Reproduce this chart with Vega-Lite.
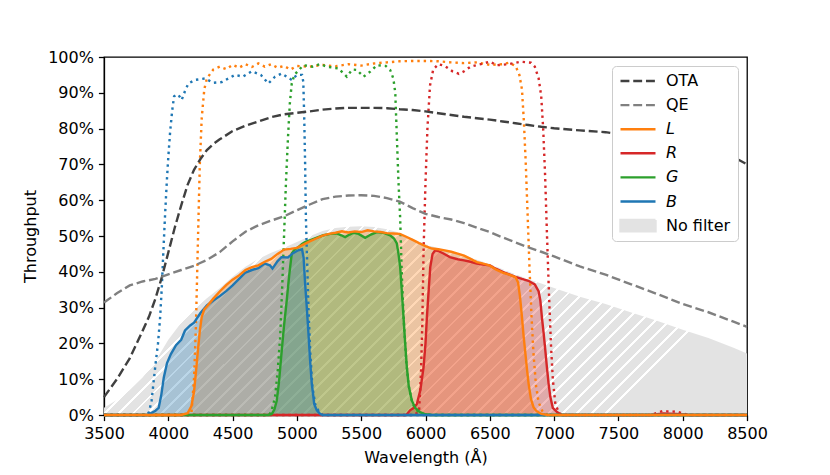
{
"$schema": "https://vega.github.io/schema/vega-lite/v6.json",
"autosize": {"type": "none"},
"width": 643, "height": 358,
"padding": {"left": 104, "top": 57, "right": 83, "bottom": 60},
"background": "white",
"config": {
  "font": "DejaVu Sans",
  "view": {"stroke": "black", "strokeWidth": 1.28},
  "axis": {"domainColor": "black", "domainWidth": 1.28, "tickColor": "black", "tickWidth": 1.28, "tickSize": 5.6, "labelPadding": 5, "labelFlush": false, "labelFont": "DejaVu Sans", "labelFontSize": 16, "labelColor": "black", "titleFont": "DejaVu Sans", "titleFontSize": 16, "titleFontWeight": "normal", "titleColor": "black", "grid": false}
},
"datasets": {
"d": [
{"s":"OTA","k":"sys","w":3500,"t":5},{"s":"OTA","k":"sys","w":3600,"t":10},{"s":"OTA","k":"sys","w":3700,"t":15.8},{"s":"OTA","k":"sys","w":3800,"t":23.5},{"s":"OTA","k":"sys","w":3850,"t":27.5},{"s":"OTA","k":"sys","w":3900,"t":32.5},{"s":"OTA","k":"sys","w":3950,"t":38.5},{"s":"OTA","k":"sys","w":4000,"t":45.4},{"s":"OTA","k":"sys","w":4050,"t":52.3},{"s":"OTA","k":"sys","w":4100,"t":58.5},{"s":"OTA","k":"sys","w":4150,"t":64.3},{"s":"OTA","k":"sys","w":4200,"t":68.5},{"s":"OTA","k":"sys","w":4250,"t":71.5},{"s":"OTA","k":"sys","w":4300,"t":74},{"s":"OTA","k":"sys","w":4350,"t":75.7},{"s":"OTA","k":"sys","w":4400,"t":77},{"s":"OTA","k":"sys","w":4500,"t":79.3},{"s":"OTA","k":"sys","w":4600,"t":80.8},{"s":"OTA","k":"sys","w":4700,"t":82},{"s":"OTA","k":"sys","w":4800,"t":83.2},{"s":"OTA","k":"sys","w":4900,"t":84},{"s":"OTA","k":"sys","w":5000,"t":84.4},{"s":"OTA","k":"sys","w":5100,"t":84.8},{"s":"OTA","k":"sys","w":5200,"t":85.3},{"s":"OTA","k":"sys","w":5300,"t":85.6},{"s":"OTA","k":"sys","w":5400,"t":85.8},{"s":"OTA","k":"sys","w":5500,"t":85.8},{"s":"OTA","k":"sys","w":5600,"t":85.8},{"s":"OTA","k":"sys","w":5700,"t":85.7},{"s":"OTA","k":"sys","w":5800,"t":85.4},{"s":"OTA","k":"sys","w":5900,"t":85.2},{"s":"OTA","k":"sys","w":6000,"t":84.8},{"s":"OTA","k":"sys","w":6100,"t":84.3},{"s":"OTA","k":"sys","w":6200,"t":83.8},{"s":"OTA","k":"sys","w":6300,"t":83.3},{"s":"OTA","k":"sys","w":6400,"t":82.9},{"s":"OTA","k":"sys","w":6500,"t":82.5},{"s":"OTA","k":"sys","w":6600,"t":82},{"s":"OTA","k":"sys","w":6700,"t":81.5},{"s":"OTA","k":"sys","w":6800,"t":81},{"s":"OTA","k":"sys","w":6900,"t":80.5},{"s":"OTA","k":"sys","w":7000,"t":80.1},{"s":"OTA","k":"sys","w":7200,"t":79.5},{"s":"OTA","k":"sys","w":7400,"t":79},{"s":"OTA","k":"sys","w":7500,"t":78.5},{"s":"OTA","k":"sys","w":7600,"t":78.3},{"s":"OTA","k":"sys","w":7800,"t":77.8},{"s":"OTA","k":"sys","w":8000,"t":76.8},{"s":"OTA","k":"sys","w":8200,"t":75},{"s":"OTA","k":"sys","w":8400,"t":72},{"s":"OTA","k":"sys","w":8500,"t":70},
{"s":"QE","k":"sys","w":3500,"t":31.4},{"s":"QE","k":"sys","w":3600,"t":34},{"s":"QE","k":"sys","w":3700,"t":36.2},{"s":"QE","k":"sys","w":3800,"t":37.3},{"s":"QE","k":"sys","w":3900,"t":38},{"s":"QE","k":"sys","w":4000,"t":39.3},{"s":"QE","k":"sys","w":4100,"t":40.5},{"s":"QE","k":"sys","w":4200,"t":41.7},{"s":"QE","k":"sys","w":4300,"t":43.3},{"s":"QE","k":"sys","w":4400,"t":45.5},{"s":"QE","k":"sys","w":4500,"t":48.5},{"s":"QE","k":"sys","w":4600,"t":51.2},{"s":"QE","k":"sys","w":4700,"t":53},{"s":"QE","k":"sys","w":4800,"t":54.3},{"s":"QE","k":"sys","w":4900,"t":55.5},{"s":"QE","k":"sys","w":5000,"t":57.2},{"s":"QE","k":"sys","w":5100,"t":58.8},{"s":"QE","k":"sys","w":5200,"t":60.3},{"s":"QE","k":"sys","w":5300,"t":61},{"s":"QE","k":"sys","w":5400,"t":61.3},{"s":"QE","k":"sys","w":5500,"t":61.4},{"s":"QE","k":"sys","w":5600,"t":61.2},{"s":"QE","k":"sys","w":5700,"t":60.6},{"s":"QE","k":"sys","w":5800,"t":59.6},{"s":"QE","k":"sys","w":5900,"t":57.8},{"s":"QE","k":"sys","w":6000,"t":56.2},{"s":"QE","k":"sys","w":6100,"t":55.3},{"s":"QE","k":"sys","w":6200,"t":54.6},{"s":"QE","k":"sys","w":6300,"t":53.6},{"s":"QE","k":"sys","w":6400,"t":52.3},{"s":"QE","k":"sys","w":6500,"t":51.1},{"s":"QE","k":"sys","w":6600,"t":49.6},{"s":"QE","k":"sys","w":6700,"t":48.2},{"s":"QE","k":"sys","w":6800,"t":46.8},{"s":"QE","k":"sys","w":6900,"t":45.6},{"s":"QE","k":"sys","w":7000,"t":44.3},{"s":"QE","k":"sys","w":7200,"t":41.5},{"s":"QE","k":"sys","w":7400,"t":39.2},{"s":"QE","k":"sys","w":7600,"t":36.5},{"s":"QE","k":"sys","w":7800,"t":33.8},{"s":"QE","k":"sys","w":8000,"t":31},{"s":"QE","k":"sys","w":8200,"t":28.7},{"s":"QE","k":"sys","w":8400,"t":26},{"s":"QE","k":"sys","w":8500,"t":24.6},
{"s":"No filter","k":"n","w":3500,"t":2},{"s":"No filter","k":"n","w":3600,"t":4.2},{"s":"No filter","k":"n","w":3700,"t":7},{"s":"No filter","k":"n","w":3800,"t":10.5},{"s":"No filter","k":"n","w":3900,"t":15},{"s":"No filter","k":"n","w":4000,"t":21},{"s":"No filter","k":"n","w":4100,"t":25.8},{"s":"No filter","k":"n","w":4200,"t":29.5},{"s":"No filter","k":"n","w":4300,"t":32.6},{"s":"No filter","k":"n","w":4400,"t":35.4},{"s":"No filter","k":"n","w":4500,"t":38.6},{"s":"No filter","k":"n","w":4600,"t":41.4},{"s":"No filter","k":"n","w":4700,"t":43.6},{"s":"No filter","k":"n","w":4800,"t":45.3},{"s":"No filter","k":"n","w":4900,"t":46.7},{"s":"No filter","k":"n","w":5000,"t":48.3},{"s":"No filter","k":"n","w":5100,"t":49.9},{"s":"No filter","k":"n","w":5200,"t":51.4},{"s":"No filter","k":"n","w":5300,"t":52.2},{"s":"No filter","k":"n","w":5400,"t":52.6},{"s":"No filter","k":"n","w":5500,"t":52.7},{"s":"No filter","k":"n","w":5600,"t":52.5},{"s":"No filter","k":"n","w":5700,"t":51.9},{"s":"No filter","k":"n","w":5800,"t":50.9},{"s":"No filter","k":"n","w":5900,"t":49.2},{"s":"No filter","k":"n","w":6000,"t":47.7},{"s":"No filter","k":"n","w":6100,"t":46.6},{"s":"No filter","k":"n","w":6200,"t":45.7},{"s":"No filter","k":"n","w":6300,"t":44.6},{"s":"No filter","k":"n","w":6400,"t":43.4},{"s":"No filter","k":"n","w":6500,"t":42.2},{"s":"No filter","k":"n","w":6600,"t":40.7},{"s":"No filter","k":"n","w":6700,"t":39.3},{"s":"No filter","k":"n","w":6800,"t":37.9},{"s":"No filter","k":"n","w":6900,"t":36.7},{"s":"No filter","k":"n","w":7000,"t":35.5},{"s":"No filter","k":"n","w":7200,"t":33},{"s":"No filter","k":"n","w":7400,"t":31},{"s":"No filter","k":"n","w":7600,"t":28.6},{"s":"No filter","k":"n","w":7800,"t":26.3},{"s":"No filter","k":"n","w":8000,"t":23.8},{"s":"No filter","k":"n","w":8200,"t":21.5},{"s":"No filter","k":"n","w":8400,"t":18.7},{"s":"No filter","k":"n","w":8500,"t":17.2},
{"s":"L","k":"f","w":3500,"t":0},{"s":"L","k":"f","w":4150,"t":0},{"s":"L","k":"f","w":4180,"t":0.5},{"s":"L","k":"f","w":4200,"t":10},{"s":"L","k":"f","w":4215,"t":25},{"s":"L","k":"f","w":4230,"t":48},{"s":"L","k":"f","w":4245,"t":70},{"s":"L","k":"f","w":4260,"t":83},{"s":"L","k":"f","w":4280,"t":91},{"s":"L","k":"f","w":4300,"t":94},{"s":"L","k":"f","w":4350,"t":96.5},{"s":"L","k":"f","w":4400,"t":97.3},{"s":"L","k":"f","w":4450,"t":96.6},{"s":"L","k":"f","w":4500,"t":97.8},{"s":"L","k":"f","w":4550,"t":97},{"s":"L","k":"f","w":4600,"t":98},{"s":"L","k":"f","w":4650,"t":97.2},{"s":"L","k":"f","w":4700,"t":98.2},{"s":"L","k":"f","w":4750,"t":97.3},{"s":"L","k":"f","w":4800,"t":98},{"s":"L","k":"f","w":4850,"t":97},{"s":"L","k":"f","w":4900,"t":97.5},{"s":"L","k":"f","w":4950,"t":96.5},{"s":"L","k":"f","w":5000,"t":97.5},{"s":"L","k":"f","w":5100,"t":97.3},{"s":"L","k":"f","w":5200,"t":97.8},{"s":"L","k":"f","w":5300,"t":97.4},{"s":"L","k":"f","w":5400,"t":98},{"s":"L","k":"f","w":5500,"t":97.6},{"s":"L","k":"f","w":5600,"t":98.2},{"s":"L","k":"f","w":5700,"t":98.5},{"s":"L","k":"f","w":5800,"t":98.8},{"s":"L","k":"f","w":5900,"t":98.9},{"s":"L","k":"f","w":6000,"t":98.9},{"s":"L","k":"f","w":6100,"t":98.8},{"s":"L","k":"f","w":6200,"t":98.5},{"s":"L","k":"f","w":6300,"t":98.3},{"s":"L","k":"f","w":6400,"t":98.5},{"s":"L","k":"f","w":6500,"t":97.8},{"s":"L","k":"f","w":6600,"t":98},{"s":"L","k":"f","w":6650,"t":98.4},{"s":"L","k":"f","w":6700,"t":97.5},{"s":"L","k":"f","w":6730,"t":95},{"s":"L","k":"f","w":6750,"t":91},{"s":"L","k":"f","w":6765,"t":82},{"s":"L","k":"f","w":6780,"t":70},{"s":"L","k":"f","w":6795,"t":55},{"s":"L","k":"f","w":6810,"t":40},{"s":"L","k":"f","w":6825,"t":27},{"s":"L","k":"f","w":6840,"t":17},{"s":"L","k":"f","w":6860,"t":8},{"s":"L","k":"f","w":6880,"t":3.5},{"s":"L","k":"f","w":6910,"t":1},{"s":"L","k":"f","w":6950,"t":0},{"s":"L","k":"f","w":8500,"t":0},
{"s":"R","k":"f","w":3500,"t":0},{"s":"R","k":"f","w":5900,"t":0},{"s":"R","k":"f","w":5950,"t":0.8},{"s":"R","k":"f","w":5965,"t":12},{"s":"R","k":"f","w":5975,"t":25},{"s":"R","k":"f","w":5985,"t":46},{"s":"R","k":"f","w":6000,"t":65},{"s":"R","k":"f","w":6015,"t":80},{"s":"R","k":"f","w":6035,"t":92},{"s":"R","k":"f","w":6060,"t":96.5},{"s":"R","k":"f","w":6100,"t":98},{"s":"R","k":"f","w":6150,"t":97.5},{"s":"R","k":"f","w":6210,"t":96},{"s":"R","k":"f","w":6260,"t":95.3},{"s":"R","k":"f","w":6300,"t":96},{"s":"R","k":"f","w":6350,"t":97.3},{"s":"R","k":"f","w":6450,"t":98.2},{"s":"R","k":"f","w":6500,"t":98.7},{"s":"R","k":"f","w":6554,"t":97.7},{"s":"R","k":"f","w":6650,"t":98},{"s":"R","k":"f","w":6740,"t":98.7},{"s":"R","k":"f","w":6820,"t":98.4},{"s":"R","k":"f","w":6850,"t":97.3},{"s":"R","k":"f","w":6880,"t":94},{"s":"R","k":"f","w":6900,"t":89},{"s":"R","k":"f","w":6915,"t":80},{"s":"R","k":"f","w":6930,"t":67},{"s":"R","k":"f","w":6945,"t":50},{"s":"R","k":"f","w":6960,"t":34},{"s":"R","k":"f","w":6975,"t":20},{"s":"R","k":"f","w":6990,"t":10},{"s":"R","k":"f","w":7010,"t":3},{"s":"R","k":"f","w":7040,"t":0.5},{"s":"R","k":"f","w":7060,"t":0},{"s":"R","k":"f","w":7750,"t":0},{"s":"R","k":"f","w":7800,"t":0.6},{"s":"R","k":"f","w":7850,"t":1.2},{"s":"R","k":"f","w":7900,"t":0.9},{"s":"R","k":"f","w":7950,"t":1},{"s":"R","k":"f","w":8000,"t":0.4},{"s":"R","k":"f","w":8050,"t":0},{"s":"R","k":"f","w":8500,"t":0},
{"s":"G","k":"f","w":3500,"t":0},{"s":"G","k":"f","w":4780,"t":0},{"s":"G","k":"f","w":4800,"t":0.8},{"s":"G","k":"f","w":4830,"t":5},{"s":"G","k":"f","w":4850,"t":12},{"s":"G","k":"f","w":4870,"t":22},{"s":"G","k":"f","w":4885,"t":35},{"s":"G","k":"f","w":4900,"t":50},{"s":"G","k":"f","w":4915,"t":65},{"s":"G","k":"f","w":4930,"t":77},{"s":"G","k":"f","w":4945,"t":87},{"s":"G","k":"f","w":4960,"t":92.6},{"s":"G","k":"f","w":4980,"t":95},{"s":"G","k":"f","w":5050,"t":97.7},{"s":"G","k":"f","w":5120,"t":97.3},{"s":"G","k":"f","w":5180,"t":98},{"s":"G","k":"f","w":5232,"t":97.3},{"s":"G","k":"f","w":5323,"t":96.8},{"s":"G","k":"f","w":5388,"t":94.5},{"s":"G","k":"f","w":5430,"t":96.5},{"s":"G","k":"f","w":5466,"t":96.4},{"s":"G","k":"f","w":5518,"t":94.5},{"s":"G","k":"f","w":5570,"t":95.9},{"s":"G","k":"f","w":5622,"t":97.7},{"s":"G","k":"f","w":5690,"t":97.5},{"s":"G","k":"f","w":5725,"t":96.4},{"s":"G","k":"f","w":5750,"t":94},{"s":"G","k":"f","w":5765,"t":90},{"s":"G","k":"f","w":5775,"t":80},{"s":"G","k":"f","w":5790,"t":65},{"s":"G","k":"f","w":5803,"t":55},{"s":"G","k":"f","w":5815,"t":40},{"s":"G","k":"f","w":5830,"t":27},{"s":"G","k":"f","w":5850,"t":15},{"s":"G","k":"f","w":5870,"t":8},{"s":"G","k":"f","w":5900,"t":3},{"s":"G","k":"f","w":5940,"t":1},{"s":"G","k":"f","w":5980,"t":0.3},{"s":"G","k":"f","w":6050,"t":0},{"s":"G","k":"f","w":8500,"t":0},
{"s":"B","k":"f","w":3500,"t":0},{"s":"B","k":"f","w":3830,"t":0},{"s":"B","k":"f","w":3850,"t":0.8},{"s":"B","k":"f","w":3870,"t":4},{"s":"B","k":"f","w":3885,"t":9},{"s":"B","k":"f","w":3900,"t":14},{"s":"B","k":"f","w":3920,"t":20},{"s":"B","k":"f","w":3936,"t":27},{"s":"B","k":"f","w":3950,"t":36},{"s":"B","k":"f","w":3962,"t":46},{"s":"B","k":"f","w":3975,"t":56},{"s":"B","k":"f","w":3988,"t":65},{"s":"B","k":"f","w":4000,"t":72},{"s":"B","k":"f","w":4014,"t":79},{"s":"B","k":"f","w":4030,"t":85},{"s":"B","k":"f","w":4045,"t":89},{"s":"B","k":"f","w":4060,"t":89.5},{"s":"B","k":"f","w":4080,"t":89.4},{"s":"B","k":"f","w":4104,"t":88},{"s":"B","k":"f","w":4130,"t":90.5},{"s":"B","k":"f","w":4156,"t":92.6},{"s":"B","k":"f","w":4208,"t":93.6},{"s":"B","k":"f","w":4286,"t":94},{"s":"B","k":"f","w":4350,"t":92.8},{"s":"B","k":"f","w":4416,"t":93},{"s":"B","k":"f","w":4519,"t":95},{"s":"B","k":"f","w":4580,"t":94.5},{"s":"B","k":"f","w":4649,"t":96},{"s":"B","k":"f","w":4720,"t":95},{"s":"B","k":"f","w":4778,"t":92.6},{"s":"B","k":"f","w":4830,"t":94.5},{"s":"B","k":"f","w":4882,"t":95.4},{"s":"B","k":"f","w":4960,"t":93.6},{"s":"B","k":"f","w":5000,"t":95},{"s":"B","k":"f","w":5040,"t":95},{"s":"B","k":"f","w":5050,"t":93},{"s":"B","k":"f","w":5057,"t":83},{"s":"B","k":"f","w":5064,"t":70},{"s":"B","k":"f","w":5070,"t":55},{"s":"B","k":"f","w":5077,"t":46},{"s":"B","k":"f","w":5090,"t":30},{"s":"B","k":"f","w":5103,"t":18},{"s":"B","k":"f","w":5120,"t":8},{"s":"B","k":"f","w":5142,"t":3},{"s":"B","k":"f","w":5170,"t":1},{"s":"B","k":"f","w":5200,"t":0},{"s":"B","k":"f","w":8500,"t":0},
{"s":"L","k":"t","w":3500,"t":0},{"s":"L","k":"t","w":4100,"t":0},{"s":"L","k":"t","w":4150,"t":0.5},{"s":"L","k":"t","w":4180,"t":2.5},{"s":"L","k":"t","w":4200,"t":6.5},{"s":"L","k":"t","w":4215,"t":12},{"s":"L","k":"t","w":4230,"t":18},{"s":"L","k":"t","w":4245,"t":23.5},{"s":"L","k":"t","w":4260,"t":27.4},{"s":"L","k":"t","w":4280,"t":29.5},{"s":"L","k":"t","w":4300,"t":30.3},{"s":"L","k":"t","w":4350,"t":32.5},{"s":"L","k":"t","w":4400,"t":34.5},{"s":"L","k":"t","w":4450,"t":36.3},{"s":"L","k":"t","w":4500,"t":37.8},{"s":"L","k":"t","w":4550,"t":39},{"s":"L","k":"t","w":4600,"t":40.5},{"s":"L","k":"t","w":4650,"t":41.3},{"s":"L","k":"t","w":4700,"t":41.8},{"s":"L","k":"t","w":4750,"t":42.8},{"s":"L","k":"t","w":4800,"t":43.6},{"s":"L","k":"t","w":4850,"t":45},{"s":"L","k":"t","w":4900,"t":46.2},{"s":"L","k":"t","w":4950,"t":46.4},{"s":"L","k":"t","w":5000,"t":46.7},{"s":"L","k":"t","w":5050,"t":47.6},{"s":"L","k":"t","w":5100,"t":48.5},{"s":"L","k":"t","w":5150,"t":49.3},{"s":"L","k":"t","w":5200,"t":50.1},{"s":"L","k":"t","w":5250,"t":50.6},{"s":"L","k":"t","w":5300,"t":50.9},{"s":"L","k":"t","w":5350,"t":51.3},{"s":"L","k":"t","w":5400,"t":51},{"s":"L","k":"t","w":5450,"t":51.3},{"s":"L","k":"t","w":5500,"t":51.1},{"s":"L","k":"t","w":5550,"t":51.6},{"s":"L","k":"t","w":5600,"t":51.3},{"s":"L","k":"t","w":5650,"t":51.1},{"s":"L","k":"t","w":5700,"t":50.8},{"s":"L","k":"t","w":5750,"t":50.7},{"s":"L","k":"t","w":5800,"t":50.6},{"s":"L","k":"t","w":5850,"t":49.8},{"s":"L","k":"t","w":5900,"t":48.9},{"s":"L","k":"t","w":5950,"t":48},{"s":"L","k":"t","w":6000,"t":47.2},{"s":"L","k":"t","w":6050,"t":46.5},{"s":"L","k":"t","w":6100,"t":46.3},{"s":"L","k":"t","w":6150,"t":46},{"s":"L","k":"t","w":6200,"t":45.6},{"s":"L","k":"t","w":6250,"t":45.1},{"s":"L","k":"t","w":6300,"t":44.5},{"s":"L","k":"t","w":6350,"t":43.6},{"s":"L","k":"t","w":6400,"t":42.7},{"s":"L","k":"t","w":6450,"t":42.3},{"s":"L","k":"t","w":6500,"t":41.7},{"s":"L","k":"t","w":6550,"t":40.6},{"s":"L","k":"t","w":6600,"t":39.8},{"s":"L","k":"t","w":6650,"t":39.2},{"s":"L","k":"t","w":6700,"t":38.5},{"s":"L","k":"t","w":6720,"t":37},{"s":"L","k":"t","w":6735,"t":33},{"s":"L","k":"t","w":6750,"t":27.4},{"s":"L","k":"t","w":6763,"t":22},{"s":"L","k":"t","w":6776,"t":17.5},{"s":"L","k":"t","w":6790,"t":12.5},{"s":"L","k":"t","w":6802,"t":8.7},{"s":"L","k":"t","w":6820,"t":4.5},{"s":"L","k":"t","w":6840,"t":2.2},{"s":"L","k":"t","w":6860,"t":1.2},{"s":"L","k":"t","w":6900,"t":0.3},{"s":"L","k":"t","w":6950,"t":0},{"s":"L","k":"t","w":8500,"t":0},
{"s":"R","k":"t","w":3500,"t":0},{"s":"R","k":"t","w":5850,"t":0},{"s":"R","k":"t","w":5880,"t":1.3},{"s":"R","k":"t","w":5910,"t":2},{"s":"R","k":"t","w":5933,"t":3.1},{"s":"R","k":"t","w":5960,"t":7},{"s":"R","k":"t","w":5985,"t":13.4},{"s":"R","k":"t","w":6000,"t":20},{"s":"R","k":"t","w":6011,"t":27.4},{"s":"R","k":"t","w":6025,"t":35},{"s":"R","k":"t","w":6037,"t":41.3},{"s":"R","k":"t","w":6055,"t":45},{"s":"R","k":"t","w":6075,"t":46},{"s":"R","k":"t","w":6100,"t":45.8},{"s":"R","k":"t","w":6140,"t":45.1},{"s":"R","k":"t","w":6190,"t":44.1},{"s":"R","k":"t","w":6250,"t":43.5},{"s":"R","k":"t","w":6300,"t":43.2},{"s":"R","k":"t","w":6350,"t":42.8},{"s":"R","k":"t","w":6400,"t":42.3},{"s":"R","k":"t","w":6450,"t":42},{"s":"R","k":"t","w":6500,"t":41.8},{"s":"R","k":"t","w":6550,"t":40.8},{"s":"R","k":"t","w":6600,"t":40},{"s":"R","k":"t","w":6650,"t":39.3},{"s":"R","k":"t","w":6700,"t":38.6},{"s":"R","k":"t","w":6750,"t":38},{"s":"R","k":"t","w":6800,"t":37.5},{"s":"R","k":"t","w":6850,"t":36.5},{"s":"R","k":"t","w":6880,"t":34.5},{"s":"R","k":"t","w":6893,"t":32},{"s":"R","k":"t","w":6906,"t":27},{"s":"R","k":"t","w":6919,"t":22.7},{"s":"R","k":"t","w":6932,"t":18},{"s":"R","k":"t","w":6944,"t":13.4},{"s":"R","k":"t","w":6958,"t":8.5},{"s":"R","k":"t","w":6971,"t":5},{"s":"R","k":"t","w":6990,"t":2},{"s":"R","k":"t","w":7023,"t":0.8},{"s":"R","k":"t","w":7060,"t":0},{"s":"R","k":"t","w":7750,"t":0},{"s":"R","k":"t","w":7850,"t":0.4},{"s":"R","k":"t","w":7950,"t":0.3},{"s":"R","k":"t","w":8050,"t":0},{"s":"R","k":"t","w":8500,"t":0},
{"s":"G","k":"t","w":3500,"t":0},{"s":"G","k":"t","w":4780,"t":0},{"s":"G","k":"t","w":4805,"t":0.3},{"s":"G","k":"t","w":4825,"t":1.5},{"s":"G","k":"t","w":4843,"t":4},{"s":"G","k":"t","w":4860,"t":9},{"s":"G","k":"t","w":4882,"t":18},{"s":"G","k":"t","w":4900,"t":25},{"s":"G","k":"t","w":4921,"t":32},{"s":"G","k":"t","w":4940,"t":39},{"s":"G","k":"t","w":4960,"t":45.1},{"s":"G","k":"t","w":4985,"t":46.3},{"s":"G","k":"t","w":5012,"t":46.9},{"s":"G","k":"t","w":5040,"t":47.8},{"s":"G","k":"t","w":5064,"t":48.3},{"s":"G","k":"t","w":5100,"t":48.8},{"s":"G","k":"t","w":5150,"t":49.5},{"s":"G","k":"t","w":5206,"t":50.2},{"s":"G","k":"t","w":5260,"t":50.6},{"s":"G","k":"t","w":5310,"t":50.7},{"s":"G","k":"t","w":5345,"t":50.2},{"s":"G","k":"t","w":5375,"t":49.7},{"s":"G","k":"t","w":5410,"t":50.4},{"s":"G","k":"t","w":5440,"t":50.9},{"s":"G","k":"t","w":5480,"t":50.6},{"s":"G","k":"t","w":5531,"t":49.5},{"s":"G","k":"t","w":5575,"t":50.4},{"s":"G","k":"t","w":5622,"t":51.1},{"s":"G","k":"t","w":5680,"t":50.8},{"s":"G","k":"t","w":5725,"t":50.2},{"s":"G","k":"t","w":5755,"t":49.3},{"s":"G","k":"t","w":5777,"t":47.9},{"s":"G","k":"t","w":5790,"t":45},{"s":"G","k":"t","w":5803,"t":41.3},{"s":"G","k":"t","w":5816,"t":34.5},{"s":"G","k":"t","w":5829,"t":27.4},{"s":"G","k":"t","w":5842,"t":20},{"s":"G","k":"t","w":5855,"t":13.4},{"s":"G","k":"t","w":5870,"t":8},{"s":"G","k":"t","w":5894,"t":4},{"s":"G","k":"t","w":5920,"t":2},{"s":"G","k":"t","w":5958,"t":0.8},{"s":"G","k":"t","w":6000,"t":0.2},{"s":"G","k":"t","w":6050,"t":0},{"s":"G","k":"t","w":8500,"t":0},
{"s":"B","k":"t","w":3500,"t":0},{"s":"B","k":"t","w":3830,"t":0},{"s":"B","k":"t","w":3860,"t":0.4},{"s":"B","k":"t","w":3900,"t":1.2},{"s":"B","k":"t","w":3925,"t":2},{"s":"B","k":"t","w":3945,"t":5.5},{"s":"B","k":"t","w":3965,"t":10.5},{"s":"B","k":"t","w":3990,"t":14.5},{"s":"B","k":"t","w":4020,"t":17},{"s":"B","k":"t","w":4060,"t":19.5},{"s":"B","k":"t","w":4100,"t":21},{"s":"B","k":"t","w":4130,"t":23.6},{"s":"B","k":"t","w":4170,"t":25},{"s":"B","k":"t","w":4200,"t":25.8},{"s":"B","k":"t","w":4250,"t":28.5},{"s":"B","k":"t","w":4300,"t":30.6},{"s":"B","k":"t","w":4350,"t":32},{"s":"B","k":"t","w":4400,"t":33.2},{"s":"B","k":"t","w":4450,"t":34.6},{"s":"B","k":"t","w":4500,"t":36.2},{"s":"B","k":"t","w":4550,"t":38},{"s":"B","k":"t","w":4600,"t":39.8},{"s":"B","k":"t","w":4650,"t":40.5},{"s":"B","k":"t","w":4700,"t":41},{"s":"B","k":"t","w":4750,"t":42.3},{"s":"B","k":"t","w":4790,"t":41.8},{"s":"B","k":"t","w":4810,"t":40.9},{"s":"B","k":"t","w":4850,"t":43},{"s":"B","k":"t","w":4880,"t":44.1},{"s":"B","k":"t","w":4930,"t":44},{"s":"B","k":"t","w":4970,"t":45.2},{"s":"B","k":"t","w":5010,"t":46},{"s":"B","k":"t","w":5040,"t":46.3},{"s":"B","k":"t","w":5052,"t":44},{"s":"B","k":"t","w":5064,"t":36.7},{"s":"B","k":"t","w":5077,"t":30},{"s":"B","k":"t","w":5090,"t":22.7},{"s":"B","k":"t","w":5103,"t":15},{"s":"B","k":"t","w":5116,"t":8.7},{"s":"B","k":"t","w":5135,"t":3},{"s":"B","k":"t","w":5155,"t":1.3},{"s":"B","k":"t","w":5180,"t":0.3},{"s":"B","k":"t","w":5200,"t":0},{"s":"B","k":"t","w":8500,"t":0}
]
},
"data": {"name": "d"},
"encoding": {
  "x": {"field": "w", "type": "quantitative", "scale": {"domain": [3500, 8500], "nice": false, "zero": false}, "axis": {"values": [3500,4000,4500,5000,5500,6000,6500,7000,7500,8000,8500], "format": "d", "title": "Wavelength (Å)", "titlePadding": 8}},
  "y": {"field": "t", "type": "quantitative", "stack": null, "scale": {"domain": [0, 100], "nice": false}, "axis": {"values": [0,10,20,30,40,50,60,70,80,90,100], "labelExpr": "datum.value + '%'", "title": "Throughput", "titlePadding": 9}}
},
"layer": [
  {
    "transform": [{"filter": "datum.k === 'n'"}],
    "mark": {"type": "area", "color": {"gradient": "linear", "x1": 0, "y1": 0, "x2": 1, "y2": 0.2935, "stops": [
{"offset":0,"color":"#fff"},{"offset":0.0041,"color":"#fff"},{"offset":0.0041,"color":"#e3e3e3"},{"offset":0.0205,"color":"#e3e3e3"},
{"offset":0.0205,"color":"#fff"},{"offset":0.0246,"color":"#fff"},{"offset":0.0246,"color":"#e3e3e3"},{"offset":0.041,"color":"#e3e3e3"},
{"offset":0.041,"color":"#fff"},{"offset":0.0451,"color":"#fff"},{"offset":0.0451,"color":"#e3e3e3"},{"offset":0.0615,"color":"#e3e3e3"},
{"offset":0.0615,"color":"#fff"},{"offset":0.0656,"color":"#fff"},{"offset":0.0656,"color":"#e3e3e3"},{"offset":0.082,"color":"#e3e3e3"},
{"offset":0.082,"color":"#fff"},{"offset":0.0861,"color":"#fff"},{"offset":0.0861,"color":"#e3e3e3"},{"offset":0.1025,"color":"#e3e3e3"},
{"offset":0.1025,"color":"#fff"},{"offset":0.1066,"color":"#fff"},{"offset":0.1066,"color":"#e3e3e3"},{"offset":0.123,"color":"#e3e3e3"},
{"offset":0.123,"color":"#fff"},{"offset":0.1271,"color":"#fff"},{"offset":0.1271,"color":"#e3e3e3"},{"offset":0.1435,"color":"#e3e3e3"},
{"offset":0.1435,"color":"#fff"},{"offset":0.1476,"color":"#fff"},{"offset":0.1476,"color":"#e3e3e3"},{"offset":0.164,"color":"#e3e3e3"},
{"offset":0.164,"color":"#fff"},{"offset":0.1681,"color":"#fff"},{"offset":0.1681,"color":"#e3e3e3"},{"offset":0.1845,"color":"#e3e3e3"},
{"offset":0.1845,"color":"#fff"},{"offset":0.1886,"color":"#fff"},{"offset":0.1886,"color":"#e3e3e3"},{"offset":0.205,"color":"#e3e3e3"},
{"offset":0.205,"color":"#fff"},{"offset":0.2091,"color":"#fff"},{"offset":0.2091,"color":"#e3e3e3"},{"offset":0.2255,"color":"#e3e3e3"},
{"offset":0.2255,"color":"#fff"},{"offset":0.2296,"color":"#fff"},{"offset":0.2296,"color":"#e3e3e3"},{"offset":0.246,"color":"#e3e3e3"},
{"offset":0.246,"color":"#fff"},{"offset":0.2501,"color":"#fff"},{"offset":0.2501,"color":"#e3e3e3"},{"offset":0.2665,"color":"#e3e3e3"},
{"offset":0.2665,"color":"#fff"},{"offset":0.2706,"color":"#fff"},{"offset":0.2706,"color":"#e3e3e3"},{"offset":0.287,"color":"#e3e3e3"},
{"offset":0.287,"color":"#fff"},{"offset":0.2911,"color":"#fff"},{"offset":0.2911,"color":"#e3e3e3"},{"offset":0.3075,"color":"#e3e3e3"},
{"offset":0.3075,"color":"#fff"},{"offset":0.3116,"color":"#fff"},{"offset":0.3116,"color":"#e3e3e3"},{"offset":0.328,"color":"#e3e3e3"},
{"offset":0.328,"color":"#fff"},{"offset":0.3321,"color":"#fff"},{"offset":0.3321,"color":"#e3e3e3"},{"offset":0.3485,"color":"#e3e3e3"},
{"offset":0.3485,"color":"#fff"},{"offset":0.3526,"color":"#fff"},{"offset":0.3526,"color":"#e3e3e3"},{"offset":0.369,"color":"#e3e3e3"},
{"offset":0.369,"color":"#fff"},{"offset":0.3731,"color":"#fff"},{"offset":0.3731,"color":"#e3e3e3"},{"offset":0.3895,"color":"#e3e3e3"},
{"offset":0.3895,"color":"#fff"},{"offset":0.3936,"color":"#fff"},{"offset":0.3936,"color":"#e3e3e3"},{"offset":0.41,"color":"#e3e3e3"},
{"offset":0.41,"color":"#fff"},{"offset":0.4141,"color":"#fff"},{"offset":0.4141,"color":"#e3e3e3"},{"offset":0.4305,"color":"#e3e3e3"},
{"offset":0.4305,"color":"#fff"},{"offset":0.4346,"color":"#fff"},{"offset":0.4346,"color":"#e3e3e3"},{"offset":0.451,"color":"#e3e3e3"},
{"offset":0.451,"color":"#fff"},{"offset":0.4551,"color":"#fff"},{"offset":0.4551,"color":"#e3e3e3"},{"offset":0.4715,"color":"#e3e3e3"},
{"offset":0.4715,"color":"#fff"},{"offset":0.4756,"color":"#fff"},{"offset":0.4756,"color":"#e3e3e3"},{"offset":0.492,"color":"#e3e3e3"},
{"offset":0.492,"color":"#fff"},{"offset":0.4961,"color":"#fff"},{"offset":0.4961,"color":"#e3e3e3"},{"offset":0.5125,"color":"#e3e3e3"},
{"offset":0.5125,"color":"#fff"},{"offset":0.5166,"color":"#fff"},{"offset":0.5166,"color":"#e3e3e3"},{"offset":0.533,"color":"#e3e3e3"},
{"offset":0.533,"color":"#fff"},{"offset":0.5371,"color":"#fff"},{"offset":0.5371,"color":"#e3e3e3"},{"offset":0.5535,"color":"#e3e3e3"},
{"offset":0.5535,"color":"#fff"},{"offset":0.5576,"color":"#fff"},{"offset":0.5576,"color":"#e3e3e3"},{"offset":0.574,"color":"#e3e3e3"},
{"offset":0.574,"color":"#fff"},{"offset":0.5781,"color":"#fff"},{"offset":0.5781,"color":"#e3e3e3"},{"offset":0.5945,"color":"#e3e3e3"},
{"offset":0.5945,"color":"#fff"},{"offset":0.5986,"color":"#fff"},{"offset":0.5986,"color":"#e3e3e3"},{"offset":0.615,"color":"#e3e3e3"},
{"offset":0.615,"color":"#fff"},{"offset":0.6191,"color":"#fff"},{"offset":0.6191,"color":"#e3e3e3"},{"offset":0.6355,"color":"#e3e3e3"},
{"offset":0.6355,"color":"#fff"},{"offset":0.6396,"color":"#fff"},{"offset":0.6396,"color":"#e3e3e3"},{"offset":0.656,"color":"#e3e3e3"},
{"offset":0.656,"color":"#fff"},{"offset":0.6601,"color":"#fff"},{"offset":0.6601,"color":"#e3e3e3"},{"offset":0.6765,"color":"#e3e3e3"},
{"offset":0.6765,"color":"#fff"},{"offset":0.6806,"color":"#fff"},{"offset":0.6806,"color":"#e3e3e3"},{"offset":0.697,"color":"#e3e3e3"},
{"offset":0.697,"color":"#fff"},{"offset":0.7011,"color":"#fff"},{"offset":0.7011,"color":"#e3e3e3"},{"offset":0.7175,"color":"#e3e3e3"},
{"offset":0.7175,"color":"#fff"},{"offset":0.7216,"color":"#fff"},{"offset":0.7216,"color":"#e3e3e3"},{"offset":0.738,"color":"#e3e3e3"},
{"offset":0.738,"color":"#fff"},{"offset":0.7421,"color":"#fff"},{"offset":0.7421,"color":"#e3e3e3"},{"offset":0.7585,"color":"#e3e3e3"},
{"offset":0.7585,"color":"#fff"},{"offset":0.7626,"color":"#fff"},{"offset":0.7626,"color":"#e3e3e3"},{"offset":0.779,"color":"#e3e3e3"},
{"offset":0.779,"color":"#fff"},{"offset":0.7831,"color":"#fff"},{"offset":0.7831,"color":"#e3e3e3"},{"offset":0.7995,"color":"#e3e3e3"},
{"offset":0.7995,"color":"#fff"},{"offset":0.8036,"color":"#fff"},{"offset":0.8036,"color":"#e3e3e3"},{"offset":0.82,"color":"#e3e3e3"},
{"offset":0.82,"color":"#fff"},{"offset":0.8241,"color":"#fff"},{"offset":0.8241,"color":"#e3e3e3"},{"offset":0.8405,"color":"#e3e3e3"},
{"offset":0.8405,"color":"#fff"},{"offset":0.8446,"color":"#fff"},{"offset":0.8446,"color":"#e3e3e3"},{"offset":0.861,"color":"#e3e3e3"},
{"offset":0.861,"color":"#fff"},{"offset":0.8651,"color":"#fff"},{"offset":0.8651,"color":"#e3e3e3"},{"offset":0.8815,"color":"#e3e3e3"},
{"offset":0.8815,"color":"#fff"},{"offset":0.8856,"color":"#fff"},{"offset":0.8856,"color":"#e3e3e3"},{"offset":0.902,"color":"#e3e3e3"},
{"offset":0.902,"color":"#fff"},{"offset":0.9061,"color":"#fff"},{"offset":0.9061,"color":"#e3e3e3"},{"offset":0.9225,"color":"#e3e3e3"},
{"offset":0.9225,"color":"#fff"},{"offset":0.9266,"color":"#fff"},{"offset":0.9266,"color":"#e3e3e3"},{"offset":0.943,"color":"#e3e3e3"},
{"offset":0.943,"color":"#fff"},{"offset":0.9471,"color":"#fff"},{"offset":0.9471,"color":"#e3e3e3"},{"offset":0.9635,"color":"#e3e3e3"},
{"offset":0.9635,"color":"#fff"},{"offset":0.9676,"color":"#fff"},{"offset":0.9676,"color":"#e3e3e3"},{"offset":0.984,"color":"#e3e3e3"},
{"offset":0.984,"color":"#fff"},{"offset":0.9881,"color":"#fff"},{"offset":0.9881,"color":"#e3e3e3"},{"offset":1,"color":"#e3e3e3"}
    ]}}
  },
  {
    "transform": [{"filter": "datum.k === 't'"}],
    "mark": {"type": "area", "fillOpacity": 0.3},
    "encoding": {
      "color": {"field": "s", "type": "nominal",
        "scale": {"domain": ["OTA", "QE", "L", "R", "G", "B", "No filter"], "range": ["#404040", "#808080", "#ff7f0e", "#d62728", "#2ca02c", "#1f77b4", "#e3e3e3"]},
        "legend": {
          "title": null, "orient": "top-right", "offset": 9, "padding": 7, "rowPadding": 8.1, "clipHeight": 16,
          "fillColor": "white", "strokeColor": "#cccccc", "cornerRadius": 4,
          "symbolSize": 1225, "symbolStrokeWidth": 2.4, "symbolType": "stroke", "labelOffset": 9,
          "labelFont": "DejaVu Sans", "labelFontSize": 16, "labelColor": "black",
          "encode": {
            "symbols": {
              "update": {
                "shape": [{"test": "datum.value === 'No filter'", "value": "M-1,-0.32H1V0.32H-1Z"}, {"value": "stroke"}],
                "stroke": [{"test": "datum.value === 'No filter'", "value": "transparent"}, {"scale": "color", "field": "value"}],
                "fill": [{"test": "datum.value === 'No filter'", "value": {"gradient": "linear", "x1": 0, "y1": 0, "x2": 1, "y2": 0.32, "stops": [{"offset":0,"color":"#fff"},{"offset":0.074,"color":"#fff"},{"offset":0.074,"color":"#e3e3e3"},{"offset":0.37,"color":"#e3e3e3"},{"offset":0.37,"color":"#fff"},{"offset":0.444,"color":"#fff"},{"offset":0.444,"color":"#e3e3e3"},{"offset":0.74,"color":"#e3e3e3"},{"offset":0.74,"color":"#fff"},{"offset":0.814,"color":"#fff"},{"offset":0.814,"color":"#e3e3e3"},{"offset":1,"color":"#e3e3e3"}]}}, {"value": "transparent"}],
                "strokeDash": [{"test": "datum.value === 'OTA' || datum.value === 'QE'", "value": [8.9, 3.84]}, {"value": [1, 0]}],
                "strokeWidth": {"value": 2.4},
                "opacity": {"value": 1},
                "fillOpacity": {"value": 1},
                "strokeOpacity": {"value": 1}
              }
            },
            "labels": {
              "update": {
                "fontStyle": [{"test": "indexof(['L','R','G','B'], datum.value) >= 0", "value": "italic"}, {"value": "normal"}]
              }
            }
          }
        }
      }
    }
  },
  {
    "transform": [{"filter": "datum.k === 'f'"}],
    "mark": {"type": "line", "strokeWidth": 2.4, "strokeDash": [2.4, 3.96]},
    "encoding": {"color": {"field": "s", "type": "nominal"}}
  },
  {
    "transform": [{"filter": "datum.k === 't' && datum.s !== 'L'"}],
    "mark": {"type": "line", "strokeWidth": 2.4},
    "encoding": {"color": {"field": "s", "type": "nominal"}}
  },
  {
    "transform": [{"filter": "datum.k === 't' && datum.s === 'L'"}],
    "mark": {"type": "line", "strokeWidth": 2.4},
    "encoding": {"color": {"field": "s", "type": "nominal"}}
  },
  {
    "transform": [{"filter": "datum.k === 'sys'"}],
    "mark": {"type": "line", "strokeWidth": 2.4, "strokeDash": [8.9, 3.84]},
    "encoding": {"color": {"field": "s", "type": "nominal"}}
  }
]
}
